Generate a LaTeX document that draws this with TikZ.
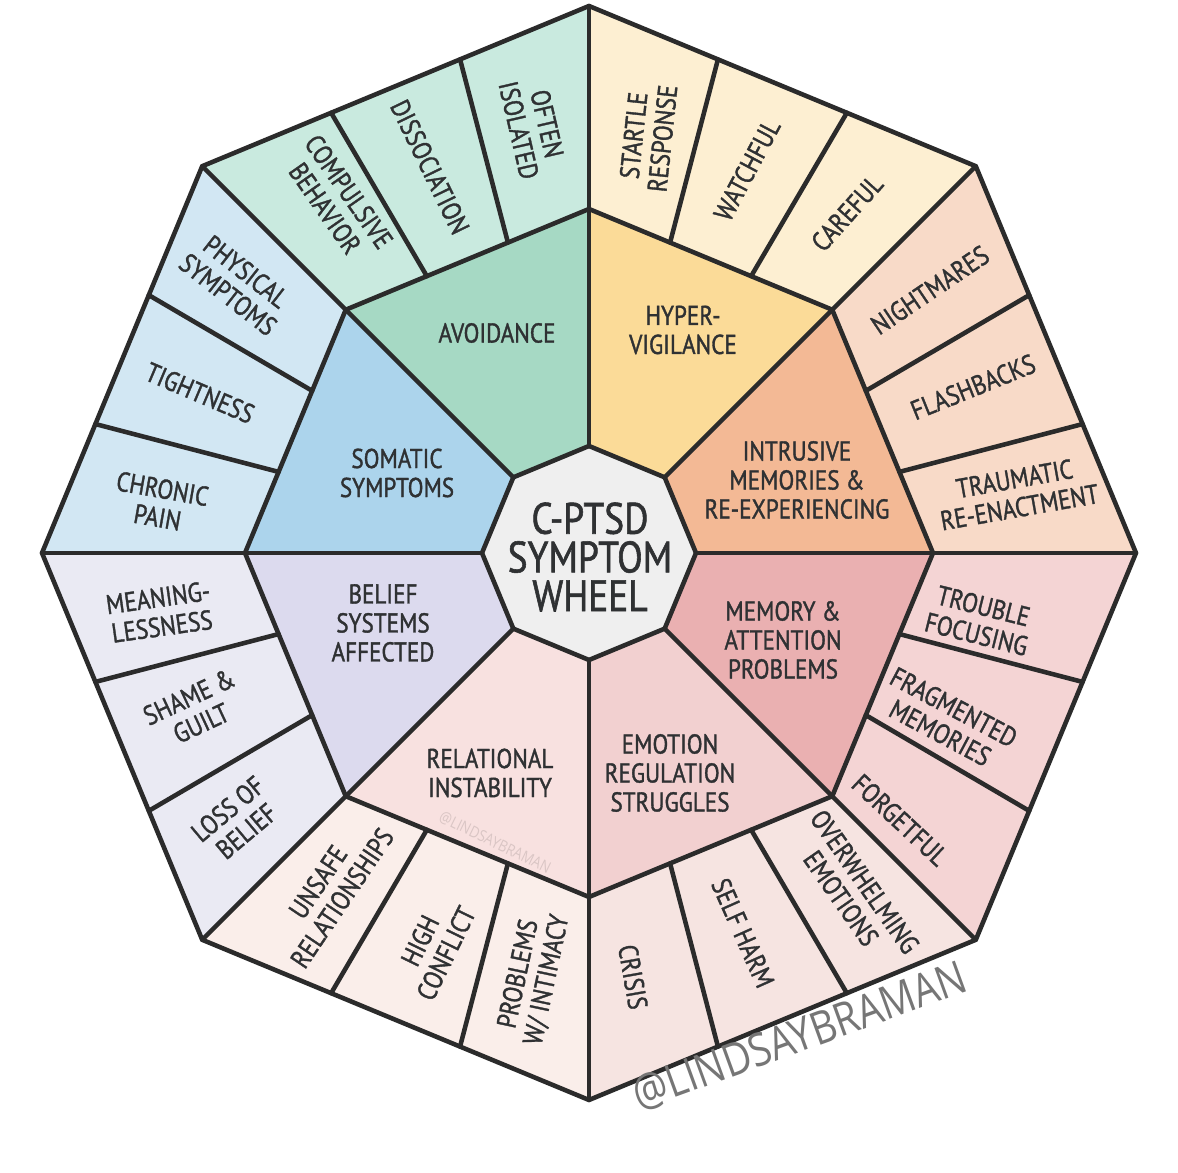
\documentclass[tikz,border=0pt]{standalone}
\usepackage{fontspec}
\setmainfont{PT Sans}[FakeStretch=0.85,FakeBold=1.3]
\newfontfamily\wmfont{Open Sans}[FakeStretch=0.85]
\usetikzlibrary{calc}
\definecolor{ink}{HTML}{2F3133}
\definecolor{edge}{HTML}{2B2B2B}
\definecolor{midc}{HTML}{EFEFEF}
\definecolor{wm}{HTML}{767676}
\definecolor{in0}{HTML}{F3B995}\definecolor{out0}{HTML}{F8DAC8}
\definecolor{in1}{HTML}{FBDB98}\definecolor{out1}{HTML}{FDEFD2}
\definecolor{in2}{HTML}{A6D9C4}\definecolor{out2}{HTML}{C9EADF}
\definecolor{in3}{HTML}{ACD4EC}\definecolor{out3}{HTML}{D2E7F3}
\definecolor{in4}{HTML}{DCDAEE}\definecolor{out4}{HTML}{EAEAF3}
\definecolor{in5}{HTML}{F8E1E0}\definecolor{out5}{HTML}{FAEEEA}
\definecolor{in6}{HTML}{F2D0D0}\definecolor{out6}{HTML}{F6E4E1}
\definecolor{in7}{HTML}{EAB0B1}\definecolor{out7}{HTML}{F4D4D4}
\tikzset{
  lab/.style={text=ink, align=center, inner sep=0pt, font=\fontsize{15.5}{16.5}\selectfont},
  ttl/.style={text=ink, align=center, inner sep=0pt, font=\fontsize{25}{22}\selectfont},
  wheelline/.style={draw=edge, line width=2.6pt, line join=round, line cap=round}
}
\begin{document}
\begin{tikzpicture}[x=0.02cm,y=0.02cm]
\useasboundingbox (0,0) rectangle (1178,1173);
\fill[white] (0,0) rectangle (1178,1173);
\coordinate (C) at (589,620);
\foreach \k in {0,...,7} {
  \coordinate (O\k) at ($(C)+(45*\k:547)$);
  \coordinate (M\k) at ($(C)+(45*\k:344)$);
  \coordinate (I\k) at ($(C)+(45*\k:107)$);
}
% fills
\foreach \k in {0,...,7} {
  \pgfmathtruncatemacro{\n}{mod(\k+1,8)}
  \fill[out\k] (M\k) -- (O\k) -- (O\n) -- (M\n) -- cycle;
  \fill[in\k] (I\k) -- (M\k) -- (M\n) -- (I\n) -- cycle;
}
\fill[midc] (I0) \foreach \k in {1,...,7} { -- (I\k) } -- cycle;
% lines
\foreach \k in {0,...,7} {
  \pgfmathtruncatemacro{\n}{mod(\k+1,8)}
  \draw[wheelline] (I\k) -- (O\k);
  \draw[wheelline] ($(M\k)!1/3!(M\n)$) -- ($(O\k)!1/3!(O\n)$);
  \draw[wheelline] ($(M\k)!2/3!(M\n)$) -- ($(O\k)!2/3!(O\n)$);
}
\draw[wheelline] (O0) \foreach \k in {1,...,7} { -- (O\k) } -- cycle;
\draw[wheelline] (M0) \foreach \k in {1,...,7} { -- (M\k) } -- cycle;
\draw[wheelline] (I0) \foreach \k in {1,...,7} { -- (I\k) } -- cycle;

% centre
\node[ttl] (title) at (590,616) {C-PTSD\\SYMPTOM\\WHEEL};
% sector labels
\node[lab] (avoid) at (497,840) {AVOIDANCE};
\node[lab] (hyper) at (683,843) {HYPER-\\VIGILANCE};
\node[lab] (intr) at (797,693) {INTRUSIVE\\MEMORIES \&\\RE-EXPERIENCING};
\node[lab] (mem) at (783,533) {MEMORY \&\\ATTENTION\\PROBLEMS};
\node[lab] (emo) at (670,400) {EMOTION\\REGULATION\\STRUGGLES};
\node[lab] (rel) at (490,400) {RELATIONAL\\INSTABILITY};
\node[lab] (bel) at (383,550) {BELIEF\\SYSTEMS\\AFFECTED};
\node[lab] (som) at (397,700) {SOMATIC\\SYMPTOMS};
% outer labels
\node[lab, rotate=84] (startle) at (648,1036) {STARTLE\\RESPONSE};
\node[lab, rotate=62] (watch) at (747,1003) {WATCHFUL};
\node[lab, rotate=48] (care) at (847,960) {CAREFUL};
\node[lab, rotate=34] (night) at (930,883) {NIGHTMARES};
\node[lab, rotate=22] (flash) at (973,786) {FLASHBACKS};
\node[lab, rotate=10] (trau) at (1017,680) {TRAUMATIC\\RE-ENACTMENT};
\node[lab, rotate=-14] (troub) at (980,553) {TROUBLE\\FOCUSING};
\node[lab, rotate=-28] (frag) at (947,453) {FRAGMENTED\\MEMORIES};
\node[lab, rotate=-43] (forg) at (900,353) {FORGETFUL};
\node[lab, rotate=-55] (over) at (853,283) {OVERWHELMING\\EMOTIONS};
\node[lab, rotate=-66] (self) at (743,240) {SELF HARM};
\node[lab, rotate=-80] (cris) at (633,196) {CRISIS};
\node[lab, rotate=78] (prob) at (533,196) {PROBLEMS\\W/ INTIMACY};
\node[lab, rotate=64] (high) at (433,226) {HIGH\\CONFLICT};
\node[lab, rotate=56] (unsafe) at (330,283) {UNSAFE\\RELATIONSHIPS};
\node[lab, rotate=40] (loss) at (237,353) {LOSS OF\\BELIEF};
\node[lab, rotate=25] (shame) at (195,463) {SHAME \&\\GUILT};
\node[lab, rotate=8] (meaning) at (160,561) {MEANING-\\LESSNESS};
\node[lab, rotate=-10] (chron) at (160,670) {CHRONIC\\PAIN};
\node[lab, rotate=-23] (tight) at (200,780) {TIGHTNESS};
\node[lab, rotate=-38] (phys) at (237,890) {PHYSICAL\\SYMPTOMS};
\node[lab, rotate=-55] (comp) at (337,973) {COMPULSIVE\\BEHAVIOR};
\node[lab, rotate=-64] (diss) at (430,1006) {DISSOCIATION};
\node[lab, rotate=-77] (often) at (533,1046) {OFTEN\\ISOLATED};
% watermarks
\node[text=wm, inner sep=0pt, rotate=20, font=\wmfont\fontsize{26}{26}\selectfont] (wmark) at (800,136) {@LINDSAYBRAMAN};
\node[text=in5!88!black, inner sep=0pt, rotate=-26, font=\wmfont\fontsize{9}{9}\selectfont] (wmark2) at (495,330) {@LINDSAYBRAMAN};
\end{tikzpicture}
\end{document}
